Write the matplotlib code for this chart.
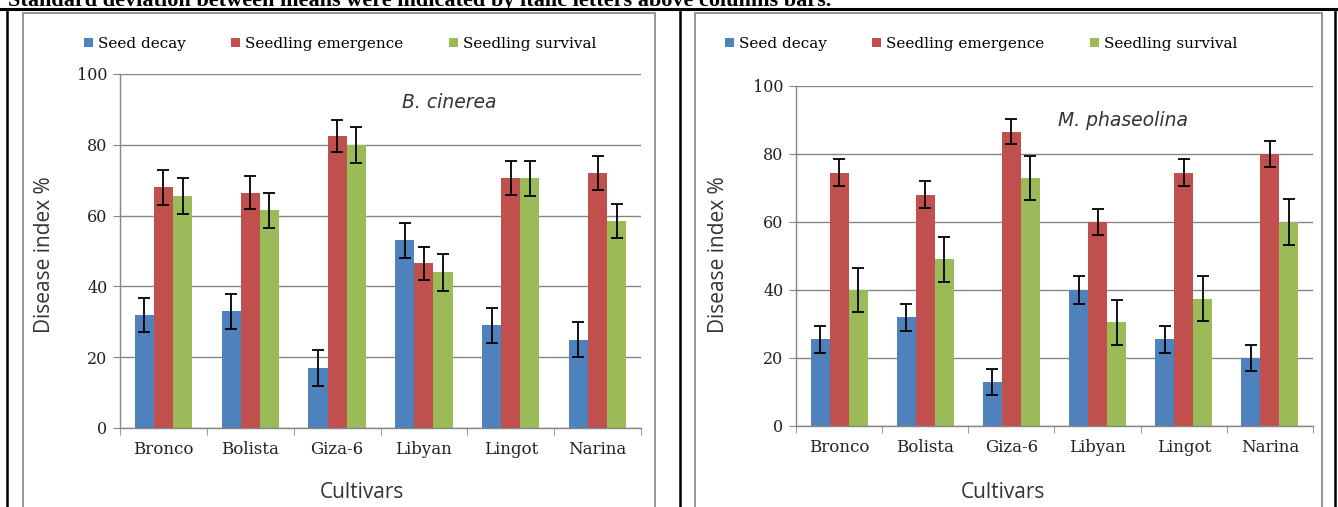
"""Disease index of six bean cultivars under B. cinerea and M. phaseolina."""
import matplotlib

matplotlib.use("Agg")

import matplotlib.pyplot as plt
import numpy as np
from matplotlib.lines import Line2D
from matplotlib.patches import Rectangle

cultivars = ["Bronco", "Bolista", "Giza-6", "Libyan", "Lingot", "Narina"]
series_names = ["Seed decay", "Seedling emergence", "Seedling survival"]
series_colors = ["#4F81BD", "#C0504D", "#9BBB59"]

# B. cinerea panel
bc_decay = [32, 33, 17, 53, 29, 25]
bc_emergence = [68, 66.5, 82.5, 46.5, 70.5, 72]
bc_survival = [65.5, 61.5, 80, 44, 70.5, 58.5]
bc_decay_err = [4.8, 4.9, 5.0, 4.9, 4.9, 4.9]
bc_emergence_err = [4.9, 4.7, 4.6, 4.6, 4.8, 4.9]
bc_survival_err = [5.1, 4.9, 5.1, 5.2, 4.9, 4.8]

# M. phaseolina panel
mp_decay = [25.5, 32, 13, 40, 25.5, 20]
mp_emergence = [74.5, 68, 86.5, 60, 74.5, 80]
mp_survival = [40, 49, 73, 30.5, 37.5, 60]
mp_decay_err = [3.9, 4.0, 3.8, 4.0, 3.9, 3.8]
mp_emergence_err = [3.9, 4.0, 3.7, 3.8, 3.9, 3.9]
mp_survival_err = [6.5, 6.6, 6.5, 6.6, 6.5, 6.7]

yticks = [0, 20, 40, 60, 80, 100]

W, H = 1338, 507
SERIF = "DejaVu Serif"
SANS = "Open Sans"


def fx(px):
    return px / W


def fy(py):
    return 1 - py / H


def draw_panel(fig, rect, values, errors, title, title_xy):
    ax = fig.add_axes(rect)
    x = np.arange(len(cultivars))
    width = 0.22
    for i, (vals, errs) in enumerate(zip(values, errors)):
        ax.bar(x + (i - 1) * width, vals, width, color=series_colors[i],
               label=series_names[i], zorder=2)
        ax.errorbar(x + (i - 1) * width, vals, yerr=errs, fmt="none",
                    ecolor="black", elinewidth=1.3, capsize=4, capthick=1.3, zorder=3)
    ax.set_xlim(-0.5, len(cultivars) - 0.5)
    ax.set_ylim(0, 100)
    ax.set_yticks(yticks)
    ax.set_yticklabels([str(t) for t in yticks], fontfamily=SERIF, fontsize=11.5, color="#222222")
    ax.set_xticks(x)
    ax.set_xticklabels(cultivars, fontfamily=SERIF, fontsize=12, color="#222222")
    ax.set_xticks(np.arange(len(cultivars) + 1) - 0.5, minor=True)
    ax.tick_params(axis="x", which="major", length=0, pad=9)
    ax.tick_params(axis="x", which="minor", length=5, color="#868686", direction="out")
    ax.tick_params(axis="y", length=5, color="#868686", direction="out", pad=4)
    ax.yaxis.grid(True, color="#868686", linewidth=1.0, zorder=0)
    ax.set_axisbelow(True)
    for side in ["top", "right"]:
        ax.spines[side].set_visible(False)
    for side in ["left", "bottom"]:
        ax.spines[side].set_color("#868686")
        ax.spines[side].set_linewidth(1.0)
    ax.text(title_xy[0], title_xy[1], title, fontfamily="DejaVu Sans", fontstyle="oblique",
            fontsize=13.5, color="#333333", ha="left", va="center")
    return ax


def main():
    fig = plt.figure(figsize=(W / 100, H / 100), dpi=100)

    # caption above the table, cut off by the top edge as in the source
    fig.text(fx(8), fy(6), "Standard deviation between means were indicated by italic letters above columns bars.",
             fontfamily="Liberation Serif", fontweight="bold", fontsize=16, va="baseline", ha="left")

    # chart frames
    for x0, x1 in [(23, 655), (695, 1322)]:
        fig.patches.append(Rectangle((fx(x0), fy(530)), fx(x1 - x0), (530 - 13) / H,
                                     transform=fig.transFigure, fill=False,
                                     edgecolor="#8c8c8c", linewidth=1.3))

    # table lines
    fig.lines.append(Line2D([0, 1], [fy(9), fy(9)], transform=fig.transFigure, color="black", linewidth=2.2))
    for px in [7, 680, 1335]:
        fig.lines.append(Line2D([fx(px), fx(px)], [fy(9), 0], transform=fig.transFigure,
                                color="black", linewidth=1.8))

    left_rect = [fx(120), fy(428), fx(641 - 120), (428 - 74) / H]
    right_rect = [fx(796), fy(426), fx(1313 - 796), (426 - 86) / H]

    ax1 = draw_panel(fig, left_rect,
                     [bc_decay, bc_emergence, bc_survival],
                     [bc_decay_err, bc_emergence_err, bc_survival_err],
                     "B. cinerea", (2.75, 92))
    ax2 = draw_panel(fig, right_rect,
                     [mp_decay, mp_emergence, mp_survival],
                     [mp_decay_err, mp_emergence_err, mp_survival_err],
                     "M. phaseolina", (2.54, 90))

    for ax, lx, cx, ly in [(ax1, 45, 362, 44), (ax2, 718, 1003, 44)]:
        handles, labels = ax.get_legend_handles_labels()
        fig.legend(handles, labels, loc="center", bbox_to_anchor=(fx((cx - 362) + 340), fy(ly)),
                   ncol=3, frameon=False, prop={"family": SERIF, "size": 11},
                   handlelength=0.6, handleheight=0.6, handletextpad=0.3, columnspacing=3.0)
        fig.text(fx(lx), fy(255), "Disease index %", rotation=90, fontfamily=SANS,
                 fontsize=15, color="#333333", ha="center", va="center")
        fig.text(fx(cx), fy(493), "Cultivars", fontfamily=SANS, fontsize=15,
                 color="#333333", ha="center", va="center")

    fig.savefig("out.png", dpi=100)
    plt.close(fig)


if __name__ == "__main__":
    main()
